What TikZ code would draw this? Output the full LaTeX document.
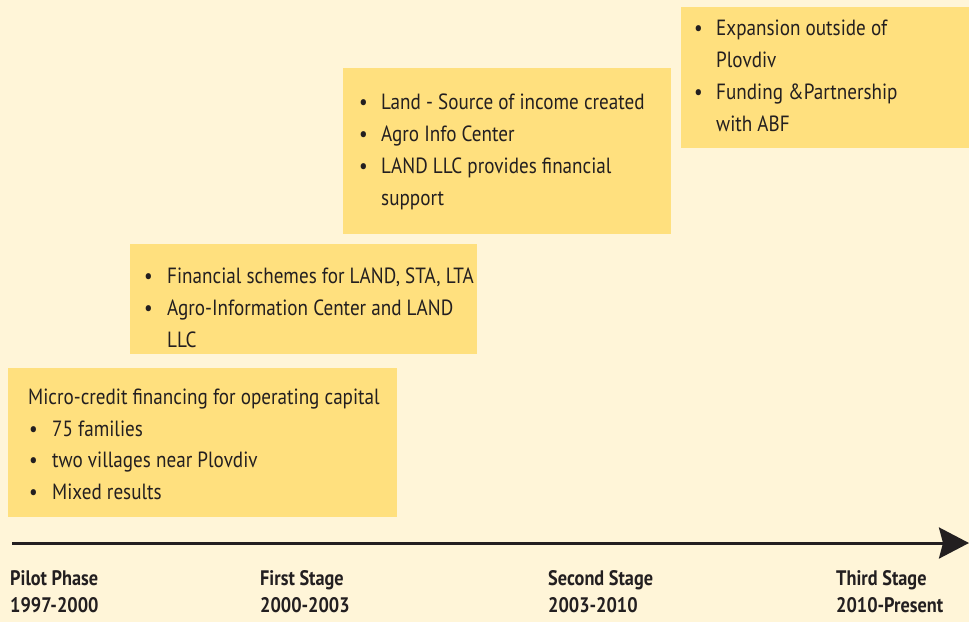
\documentclass[tikz,border=0pt]{standalone}
\usepackage{fontspec}
\setmainfont{PT Sans}[FakeStretch=0.87]
\usetikzlibrary{arrows.meta}
\definecolor{bgcream}{HTML}{FFF5D8}
\definecolor{boxyellow}{HTML}{FFE07E}
\definecolor{inkdark}{HTML}{231F20}
\begin{document}
\begin{tikzpicture}[x=1pt,y=-1pt,
  stagebox/.style={fill=boxyellow,draw=none},
  txt/.style={inner sep=0pt,anchor=base west,text=inkdark,font=\fontsize{22}{26}\selectfont},
  bul/.style={inner sep=0pt,anchor=base west,text=inkdark,font=\fontsize{22}{26}\selectfont},
  lbl/.style={inner sep=0pt,anchor=base west,text=inkdark,font=\fontsize{21}{25}\selectfont\bfseries}]
\fill[bgcream] (0,0) rectangle (969,622);
\useasboundingbox (0,0) rectangle (969,622);
% boxes
\path[stagebox] (8,368) rectangle (397,517);
\path[stagebox] (130,244) rectangle (477,354);
\path[stagebox] (343,68) rectangle (671,234);
\path[stagebox] (681,7) rectangle (969,148);
% box 1
\node[txt] (b1a) at (28,404) {Micro-credit financing for operating capital};
\node[bul] (b1b1) at (29,436) {•};
\node[txt] (b1b) at (52,436) {75 families};
\node[bul] (b1c1) at (29,467) {•};
\node[txt] (b1c) at (52,467) {two villages near Plovdiv};
\node[bul] (b1d1) at (29,499) {•};
\node[txt] (b1d) at (52,499) {Mixed results};
% box 2
\node[bul] (b2a1) at (144,283) {•};
\node[txt] (b2a) at (167,283) {Financial schemes for LAND, STA, LTA};
\node[bul] (b2b1) at (144,315) {•};
\node[txt] (b2b) at (167,315) {Agro-Information Center and LAND};
\node[txt] (b2c) at (167,347) {LLC};
% box 3
\node[bul] (b3a1) at (359,109) {•};
\node[txt] (b3a) at (381,109) {Land - Source of income created};
\node[bul] (b3b1) at (359,141) {•};
\node[txt] (b3b) at (381,141) {Agro Info Center};
\node[bul] (b3c1) at (359,173) {•};
\node[txt] (b3c) at (381,173) {LAND LLC provides financial};
\node[txt] (b3d) at (381,205) {support};
% box 4
\node[bul] (b4a1) at (694,35) {•};
\node[txt] (b4a) at (716,35) {Expansion outside of};
\node[txt] (b4b) at (716,67) {Plovdiv};
\node[bul] (b4c1) at (694,99) {•};
\node[txt] (b4c) at (716,99) {Funding \&Partnership};
\node[txt] (b4d) at (716,131) {with ABF};
% timeline
\coordinate (tlstart) at (12,543);
\coordinate (tlend) at (969,543);
\draw[inkdark,line width=3pt,-{Stealth[length=30pt,width=31pt,inset=4pt]}] (tlstart) -- (tlend);
% labels
\node[lbl] (p1) at (10,585) {Pilot Phase};
\node[lbl] (p2) at (10,612) {1997-2000};
\node[lbl] (f1) at (260,585) {First Stage};
\node[lbl] (f2) at (260,612) {2000-2003};
\node[lbl] (s1) at (548,585) {Second Stage};
\node[lbl] (s2) at (548,612) {2003-2010};
\node[lbl] (t1) at (836,585) {Third Stage};
\node[lbl] (t2) at (836,612) {2010-Present};
\end{tikzpicture}
\end{document}
